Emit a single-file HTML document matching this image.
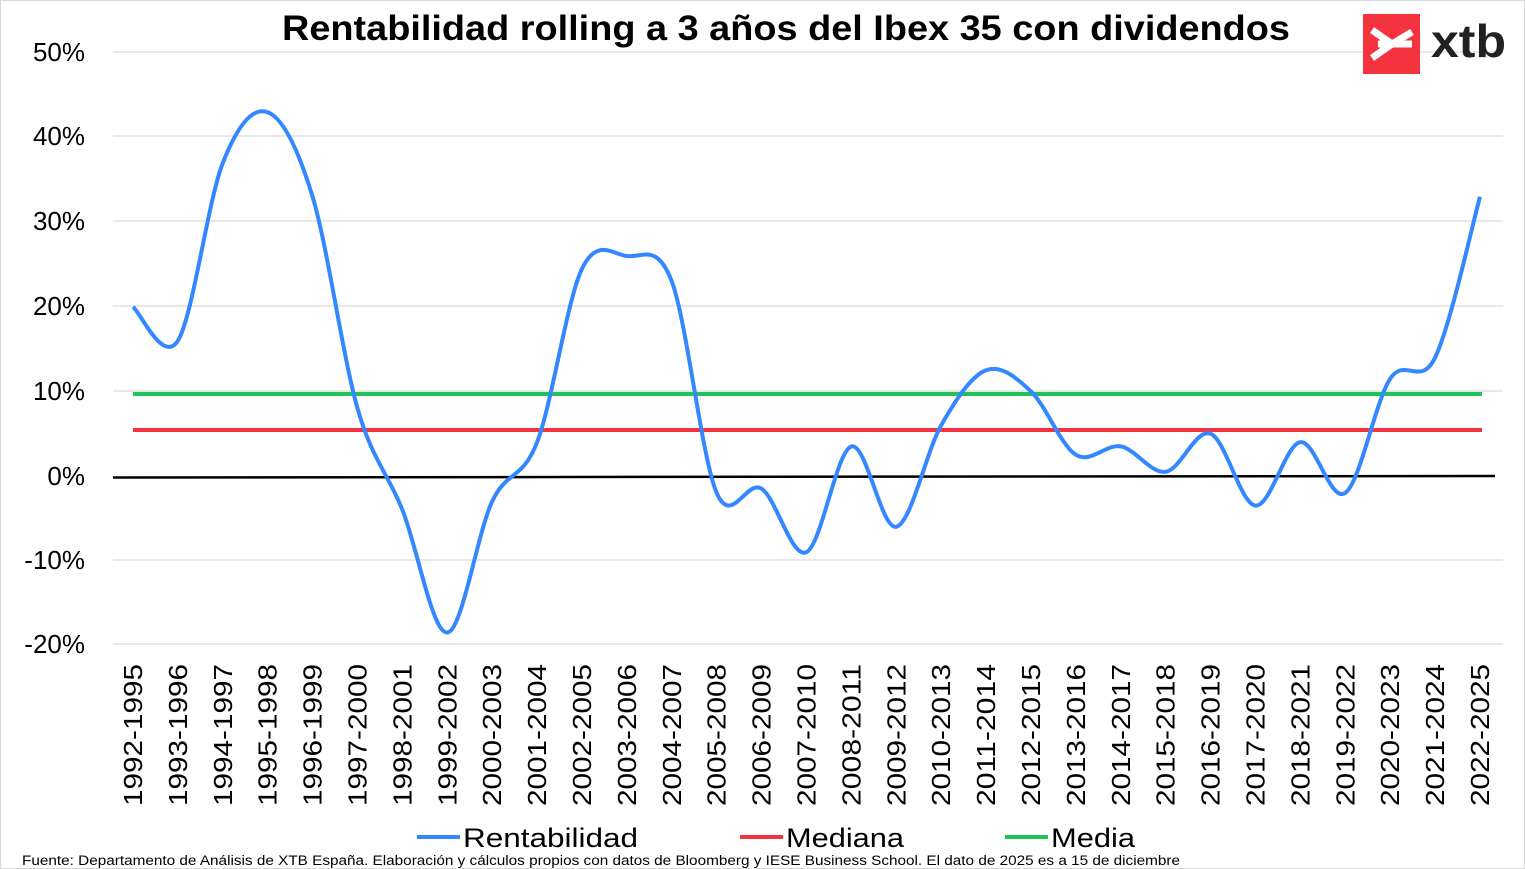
<!DOCTYPE html>
<html><head><meta charset="utf-8"><style>
body{margin:0;background:#fff;}
svg{display:block;font-family:"Liberation Sans",sans-serif;}
</style></head><body>
<svg id="s" width="1525" height="869" viewBox="0 0 1525 869">
<rect x="0.5" y="0.5" width="1524" height="868" fill="#fff" stroke="#d9d9d9"/>
<g stroke="#d9d9d9" stroke-width="1.3">
<line x1="113" y1="52" x2="1503" y2="52"/><line x1="113" y1="136" x2="1503" y2="136"/>
<line x1="113" y1="221" x2="1503" y2="221"/><line x1="113" y1="306" x2="1503" y2="306"/>
<line x1="113" y1="391" x2="1503" y2="391"/><line x1="113" y1="560" x2="1503" y2="560"/>
<line x1="113" y1="644" x2="1503" y2="644"/>
</g>
<g font-size="26" fill="#000" text-anchor="end">
<text x="85" y="61">50%</text><text x="85" y="145">40%</text><text x="85" y="230">30%</text>
<text x="85" y="315">20%</text><text x="85" y="400">10%</text><text x="85" y="485">0%</text>
<text x="85" y="569">-10%</text><text x="85" y="653">-20%</text>
</g>
<line x1="113" y1="477.5" x2="1495" y2="476" stroke="#000" stroke-width="2.5"/>
<line x1="133" y1="394" x2="1482" y2="394" stroke="#1ec455" stroke-width="4"/>
<line x1="133" y1="430" x2="1482" y2="430" stroke="#f5333f" stroke-width="4"/>
<path id="p" fill="none" stroke="#3388ff" stroke-width="4"/>
<g id="xl" font-size="26" fill="#000"></g>
<text x="282" y="40" font-size="35" font-weight="bold" textLength="1008" lengthAdjust="spacingAndGlyphs">Rentabilidad rolling a 3 años del Ibex 35 con dividendos</text>
<rect x="1363" y="14" width="57" height="60" fill="#f5333f"/>
<path d="M1372 30 L1392 44 L1372 58 M1378 44 L1412 44 M1392 44 L1412 32" stroke="#fff" stroke-width="7" fill="none"/>
<text x="1431" y="57" font-size="46" font-weight="bold" fill="#222" textLength="75" lengthAdjust="spacingAndGlyphs">xtb</text>
<g font-size="27" fill="#000">
<line x1="417" y1="837" x2="460" y2="837" stroke="#3388ff" stroke-width="4"/><text x="463" y="847" textLength="175" lengthAdjust="spacingAndGlyphs">Rentabilidad</text>
<line x1="740" y1="837" x2="783" y2="837" stroke="#f5333f" stroke-width="4"/><text x="786" y="847" textLength="118" lengthAdjust="spacingAndGlyphs">Mediana</text>
<line x1="1005" y1="837" x2="1048" y2="837" stroke="#1ec455" stroke-width="4"/><text x="1051" y="847" textLength="84" lengthAdjust="spacingAndGlyphs">Media</text>
</g>
<text x="22" y="865" font-size="13.5" fill="#000" textLength="1158" lengthAdjust="spacingAndGlyphs">Fuente: Departamento de Análisis de XTB España. Elaboración y cálculos propios con datos de Bloomberg y IESE Business School. El dato de 2025 es a 15 de diciembre</text>
</svg>
<script>
var v=[20,16,37,43,33,8,-4,-18.5,-3,4,24.5,26,23,-2,-1.5,-9,3.5,-6,6,12.5,10,2.5,3.5,0.5,5,-3.5,4,-2,11.5,14,33];
var pts=v.map(function(d,i){return [133+i*44.9,476-d*8.46];});
var d="M"+pts[0][0]+" "+pts[0][1];
for(var i=0;i<pts.length-1;i++){var p0=pts[Math.max(0,i-1)],p1=pts[i],p2=pts[i+1],p3=pts[Math.min(pts.length-1,i+2)];var t=6;
d+=" C"+(p1[0]+(p2[0]-p0[0])/t)+" "+(p1[1]+(p2[1]-p0[1])/t)+" "+(p2[0]-(p3[0]-p1[0])/t)+" "+(p2[1]-(p3[1]-p1[1])/t)+" "+p2[0]+" "+p2[1];}
document.getElementById("p").setAttribute("d",d);
var g=document.getElementById("xl"),h="";
for(var i=0;i<31;i++){var x=133+i*44.9+9;var y=1992+i;h+='<text text-anchor="end" textLength="142" lengthAdjust="spacingAndGlyphs" transform="translate('+x+',664) rotate(-90)">'+y+'-'+(y+3)+'</text>';}
g.innerHTML=h;
</script>
</body></html>
